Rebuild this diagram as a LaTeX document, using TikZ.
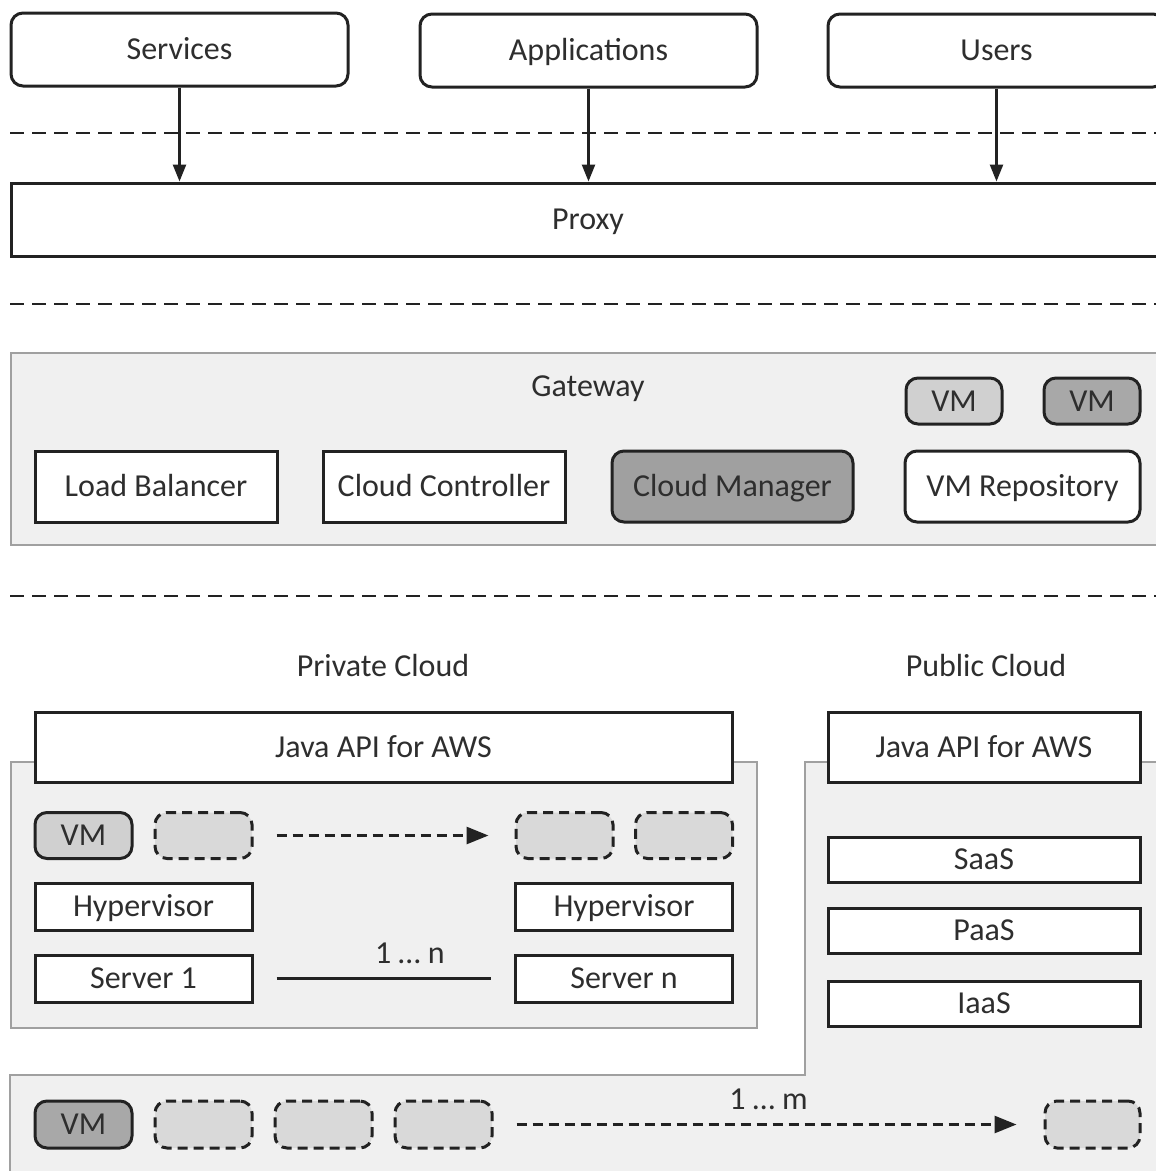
\documentclass[tikz,border=0pt]{standalone}
\usepackage{fontspec}
\setmainfont{Carlito}
\usetikzlibrary{arrows.meta}
\definecolor{txt}{HTML}{2E2E2E}
\definecolor{edge}{HTML}{222222}
\definecolor{regfill}{HTML}{F0F0F0}
\definecolor{regedge}{HTML}{A0A0A0}
\definecolor{dashfill}{HTML}{D9D9D9}
\definecolor{vmlight}{HTML}{D0D0D0}
\definecolor{vmdark}{HTML}{A8A8A8}
\definecolor{mgr}{HTML}{A0A0A0}
\tikzset{
  base/.style={draw=edge, line width=3pt, text=txt, inner sep=0pt, text height=22.4pt, text depth=1.6pt, font=\fontsize{32}{38}\selectfont},
  rbox/.style={base, rounded corners=12pt, fill=white},
  sbox/.style={base, fill=white},
  dbox/.style={base, rounded corners=12pt, fill=dashfill, dash pattern=on 10pt off 6pt, minimum width=97pt, minimum height=46pt},
  vmbox/.style={base, rounded corners=12pt, minimum width=97pt, minimum height=46pt},
  region/.style={draw=regedge, fill=regfill, line width=2.2pt},
  sep/.style={draw=edge, line width=2.5pt, dash pattern=on 14pt off 8pt},
  lbl/.style={text=txt, inner sep=0pt, text height=22.4pt, text depth=1.6pt, font=\fontsize{32}{38}\selectfont},
  arr/.style={draw=edge, line width=2.5pt, -{Triangle[length=17pt,width=13pt]}},
  darr/.style={draw=edge, line width=2.8pt, dash pattern=on 10pt off 6pt, -{Triangle[length=22pt,width=17pt]}},
}
\begin{document}
\begin{tikzpicture}[x=1pt,y=-1pt]
\useasboundingbox (0,0) rectangle (1156,1171);
\clip (0,0) rectangle (1156,1171);
\fill[white] (0,0) rectangle (1156,1171);

% separators
\draw[sep] (10,133) -- (1170,133);
\draw[sep] (10,304) -- (1170,304);
\draw[sep] (10,596) -- (1170,596);

% top row
\node[rbox, minimum width=337pt, minimum height=73pt] (services) at (179.5,49.5) {Services};
\node[rbox, minimum width=337pt, minimum height=73pt] (apps) at (588.5,50.5) {Applications};
\node[rbox, minimum width=337pt, minimum height=73pt] (users) at (996.5,50.5) {Users};
\node[sbox, minimum width=1154pt, minimum height=73pt] (proxy) at (588,219.5) {Proxy};
\draw[arr] (services.south) -- (services.south |- proxy.north);
\draw[arr] (apps.south) -- (apps.south |- proxy.north);
\draw[arr] (users.south) -- (users.south |- proxy.north);

% gateway
\node[region, minimum width=1154pt, minimum height=192pt] (gateway) at (588,449) {};
\node[lbl] (gwlabel) at (588,386) {Gateway};
\node[vmbox, fill=vmlight, minimum width=96pt] (gvm1) at (954,401) {VM};
\node[vmbox, fill=vmdark, minimum width=96pt] (gvm2) at (1092,401) {VM};
\node[sbox, minimum width=242pt, minimum height=71pt] (lb) at (156,486.5) {Load Balancer};
\node[sbox, minimum width=242pt, minimum height=71pt] (cc) at (444,486.5) {Cloud Controller};
\node[rbox, fill=mgr, minimum width=241pt, minimum height=71pt] (cm) at (732.5,486.5) {Cloud Manager};
\node[rbox, minimum width=235pt, minimum height=71pt] (vmrep) at (1022.5,486.5) {VM Repository};

% cloud labels
\node[lbl] (privlabel) at (383,666) {Private Cloud};
\node[lbl] (publabel) at (986,666) {Public Cloud};

% regions
\path[region] (805,1075) -- (805,762) -- (1175,762) -- (1175,1190) -- (10,1190) -- (10,1075) -- cycle;
\node[region, minimum width=746pt, minimum height=266pt] (priv) at (384,895) {};

% private cloud
\node[sbox, minimum width=697pt, minimum height=70pt] (japi1) at (383.5,747) {Java API for AWS};
\node[vmbox, fill=vmlight] (pvm) at (83.5,835.5) {VM};
\node[dbox] (pd1) at (203.5,835.5) {};
\node[dbox] (pd2) at (564.5,835.5) {};
\node[dbox] (pd3) at (684,835.5) {};
\draw[darr, shorten <=23pt, shorten >=26pt] (pd1.east) -- (pd2.west);
\node[sbox, minimum width=217pt, minimum height=47pt] (hyp1) at (143.5,906.5) {Hypervisor};
\node[sbox, minimum width=217pt, minimum height=47pt] (hyp2) at (624,906.5) {Hypervisor};
\node[sbox, minimum width=217pt, minimum height=47pt] (srv1) at (143.5,978.5) {Server 1};
\node[sbox, minimum width=217pt, minimum height=47pt] (srvn) at (624,978.5) {Server n};
\draw[draw=edge, line width=2.5pt, shorten <=23pt, shorten >=23pt] (srv1.east) -- node[lbl, pos=0.6, above=12pt] (nlabel) {1 … n} (srvn.west);

% public cloud
\node[sbox, minimum width=312pt, minimum height=70pt] (japi2) at (984,747) {Java API for AWS};
\node[sbox, minimum width=312pt, minimum height=45pt] (saas) at (984,859.5) {SaaS};
\node[sbox, minimum width=312pt, minimum height=45pt] (paas) at (984,930.5) {PaaS};
\node[sbox, minimum width=312pt, minimum height=45pt] (iaas) at (984,1003.5) {IaaS};

% bottom band
\node[vmbox, fill=vmdark, minimum height=47pt] (bvm) at (83.5,1124.5) {VM};
\node[dbox, minimum height=47pt] (bd1) at (203.5,1124.5) {};
\node[dbox, minimum height=47pt] (bd2) at (323.5,1124.5) {};
\node[dbox, minimum height=47pt] (bd3) at (443.5,1124.5) {};
\node[dbox, minimum height=47pt, minimum width=95pt] (bd4) at (1092.5,1124.5) {};
\draw[darr, shorten <=23pt, shorten >=27pt] (bd3.east) -- node[lbl, pos=0.5, above=12pt] (mlabel) {1 … m} (bd4.west);
\end{tikzpicture}
\end{document}
